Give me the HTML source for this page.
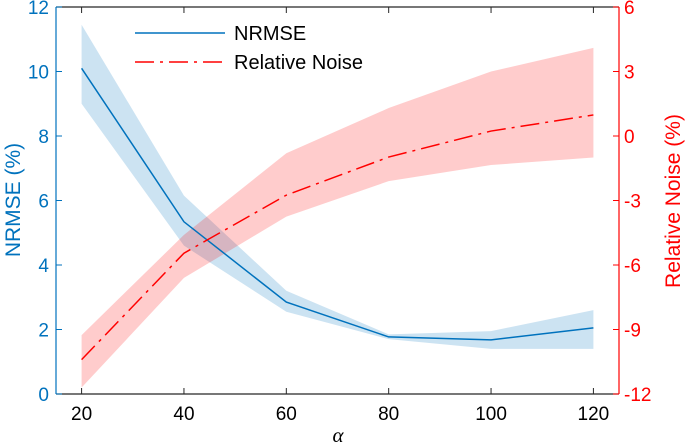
<!DOCTYPE html>
<html><head><meta charset="utf-8"><style>
html,body{margin:0;padding:0;background:#fff}
svg{display:block;font-family:"Liberation Sans",Arial,sans-serif}
</style></head><body>
<svg id="chart" width="685" height="444" xmlns="http://www.w3.org/2000/svg" style="position:absolute;left:0;top:0"></svg>
<script>
const alphas=[20,40,60,80,100,120];
const nrmse=[10.1,5.34,2.85,1.77,1.68,2.05];
const nrmseLo=[9.0,4.6,2.55,1.7,1.4,1.4];
const nrmseHi=[11.45,6.15,3.2,1.85,1.95,2.6];
const noise=[-10.4,-5.45,-2.75,-0.98,0.23,0.98];
const noiseLo=[-11.7,-6.6,-3.75,-2.1,-1.35,-1.0];
const noiseHi=[-9.26,-4.6,-0.8,1.3,3.0,4.1];
const xTicks=[20,40,60,80,100,120];
const yLTicks=[0,2,4,6,8,10,12];
const yRTicks=[-12,-9,-6,-3,0,3,6];

const svg=document.getElementById('chart');
const NS='http://www.w3.org/2000/svg';
const L=56,R=619,T=7,B=394;
const X=v=>L+(v-15)/(125-15)*(R-L);
const YL=v=>B-v/12*(B-T);
const YR=v=>B-(v+12)/18*(B-T);
const BLUE='#0072BD',RED='#FF0000';
function el(tag,attrs,parent){const e=document.createElementNS(NS,tag);for(const k in attrs)e.setAttribute(k,attrs[k]);(parent||svg).appendChild(e);return e;}

function band(lo,hi,fy,fill,name){
  let pts=alphas.map((a,i)=>X(a)+','+fy(hi[i]));
  for(let i=alphas.length-1;i>=0;i--)pts.push(X(alphas[i])+','+fy(lo[i]));
  const p=el('polygon',{points:pts.join(' '),fill:fill,'fill-opacity':'0.2',stroke:'none'});
  
  
}
band(nrmseLo,nrmseHi,YL,BLUE,'nrmse-band');
band(noiseLo,noiseHi,YR,RED,'noise-band');

const l1=el('polyline',{points:alphas.map((a,i)=>X(a)+','+YL(nrmse[i])).join(' '),fill:'none',stroke:BLUE,'stroke-width':1.5});


const l2=el('polyline',{points:alphas.map((a,i)=>X(a)+','+YR(noise[i])).join(' '),fill:'none',stroke:RED,'stroke-width':1.5,'stroke-dasharray':'19,6,3,6'});



const xa=el('line',{x1:L,y1:B,x2:R,y2:B,stroke:'#262626','stroke-width':1.2});


const ta=el('line',{x1:L,y1:T,x2:R,y2:T,stroke:'#262626','stroke-width':1.2});


const la=el('line',{x1:L,y1:T,x2:L,y2:B,stroke:BLUE,'stroke-width':1.2});


const ra=el('line',{x1:R,y1:T,x2:R,y2:B,stroke:RED,'stroke-width':1.2});



xTicks.forEach(v=>{
  el('line',{x1:X(v),y1:B,x2:X(v),y2:B-6,stroke:'#262626'});
  el('line',{x1:X(v),y1:T,x2:X(v),y2:T+6,stroke:'#262626'});
  const t=el('text',{x:X(v),y:B+26,'text-anchor':'middle','font-size':19,fill:'#000'});
  t.textContent=v;
  
  
});
yLTicks.forEach(v=>{
  el('line',{x1:L,y1:YL(v),x2:L+6,y2:YL(v),stroke:BLUE});
  const t=el('text',{x:L-7,y:YL(v)+7,'text-anchor':'end','font-size':19,fill:BLUE});
  t.textContent=v;
  
  
});
yRTicks.forEach(v=>{
  el('line',{x1:R,y1:YR(v),x2:R-6,y2:YR(v),stroke:RED});
  const t=el('text',{x:R+5,y:YR(v)+7,'text-anchor':'start','font-size':19,fill:RED});
  t.textContent=v;
  
  
});
</script>
<svg width="685" height="444" style="position:absolute;left:0;top:0;pointer-events:none">
  <text x="338" y="442" text-anchor="middle" font-size="21" font-style="italic" font-family="Liberation Serif,serif">α</text>
  <text transform="translate(20,200) rotate(-90)" text-anchor="middle" font-size="21" fill="#0072BD" font-family="Liberation Sans,sans-serif">NRMSE (%)</text>
  <text transform="translate(680,201) rotate(-90)" text-anchor="middle" font-size="21" fill="#FF0000" font-family="Liberation Sans,sans-serif">Relative Noise (%)</text>
  <g font-family="Liberation Sans,sans-serif" font-size="20">
    <line x1="135" y1="33" x2="225" y2="33" stroke="#0072BD" stroke-width="1.5"/>
    <text x="234" y="40">NRMSE</text>
    <line x1="135" y1="62" x2="225" y2="62" stroke="#FF0000" stroke-width="1.5" stroke-dasharray="19,6,3,6"/>
    <text x="234" y="69">Relative Noise</text>
  </g>
</svg>
</body></html>
